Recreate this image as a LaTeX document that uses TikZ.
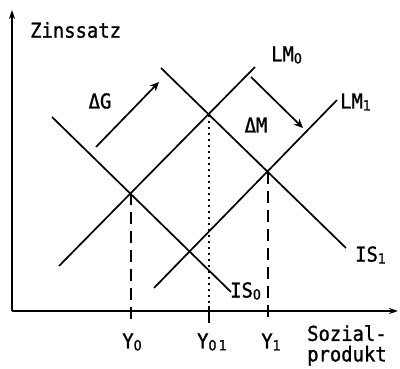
\documentclass[tikz,border=0pt]{standalone}
\usepackage{fontspec}
\setmainfont{DejaVu Sans Mono}[FakeStretch=0.92,FakeBold=1.2]
\newfontfamily\subfont{DejaVu Sans}[FakeStretch=0.9,FakeBold=1.2]
\usetikzlibrary{arrows.meta}
\newcommand{\sbx}[1]{\raisebox{-2pt}{\subfont\fontsize{14}{14}\selectfont #1}}
\begin{document}
\begin{tikzpicture}[x=1pt,y=-1pt,
  curve/.style={line width=1.7pt},
  axis/.style={line width=1.7pt,-{Stealth[length=9pt,width=6pt]}},
  shiftarrow/.style={line width=1.7pt,-{Stealth[length=9pt,width=8pt]}},
  dashline/.style={line width=1.7pt,dash pattern=on 12pt off 7pt},
  dotline/.style={line width=1.7pt,dash pattern=on 1.7pt off 4.3pt},
  lab/.style={font=\fontsize{20.5}{22}\selectfont,inner sep=0pt}]
\useasboundingbox (0,0) rectangle (400,369);
% axes
\coordinate (O) at (12,311);
\coordinate (ytop) at (12,10);
\coordinate (xend) at (398,311);
\draw[axis] (O) -- (ytop);
\draw[axis] (O) -- (xend);
% curves
\coordinate (is0a) at (52,117); \coordinate (is0b) at (231,292);
\coordinate (lm0a) at (59,266); \coordinate (lm0b) at (255,67);
\coordinate (is1a) at (161,68); \coordinate (is1b) at (346,248);
\coordinate (lm1a) at (154,288); \coordinate (lm1b) at (337,100);
\draw[curve] (is0a) -- (is0b);
\draw[curve] (lm0a) -- (lm0b);
\draw[curve] (is1a) -- (is1b);
\draw[curve] (lm1a) -- (lm1b);
% intersections
\coordinate (E0) at (131,193);
\coordinate (E01) at (209,115);
\coordinate (E1) at (268,172);
\coordinate (t0) at (131,323);
\coordinate (t01) at (209,323);
\coordinate (t1) at (268,323);
\coordinate (d01) at (209,306);
\draw[dashline] (E0) -- (t0);
\draw[dashline] (E1) -- (t1);
\draw[dotline] (E01) -- (d01);
\draw[line width=1.7pt] (d01) -- (t01);
% shift arrows
\coordinate (dga) at (96,147); \coordinate (dgb) at (159,82);
\coordinate (dma) at (251,77); \coordinate (dmb) at (303,128);
\draw[shiftarrow] (dga) -- (dgb);
\draw[shiftarrow] (dma) -- (dmb);
% labels
\node[lab,anchor=west] (zins) at (30,30) {Zinssatz};
\node[lab] (dG) at (100,101) {ΔG};
\node[lab] (dM) at (256,125) {ΔM};
\node[lab,anchor=west] (LM0) at (271,55) {LM\sbx{0}};
\node[lab,anchor=west] (LM1) at (340,102) {LM\sbx{1}};
\node[lab,anchor=west] (IS1) at (355,255) {IS\sbx{1}};
\node[lab,anchor=west] (IS0) at (230,291) {IS\sbx{0}};
\node[lab] (Y0) at (132,342) {Y\sbx{0}};
\node[lab] (Y01) at (212,342) {Y\sbx{0\,1}};
\node[lab] (Y1) at (271,342) {Y\sbx{1}};
\node[lab,align=left,anchor=north west,font=\fontsize{20.5}{20.5}\selectfont] (soz) at (307,325) {Sozial-\\produkt};
\end{tikzpicture}
\end{document}
